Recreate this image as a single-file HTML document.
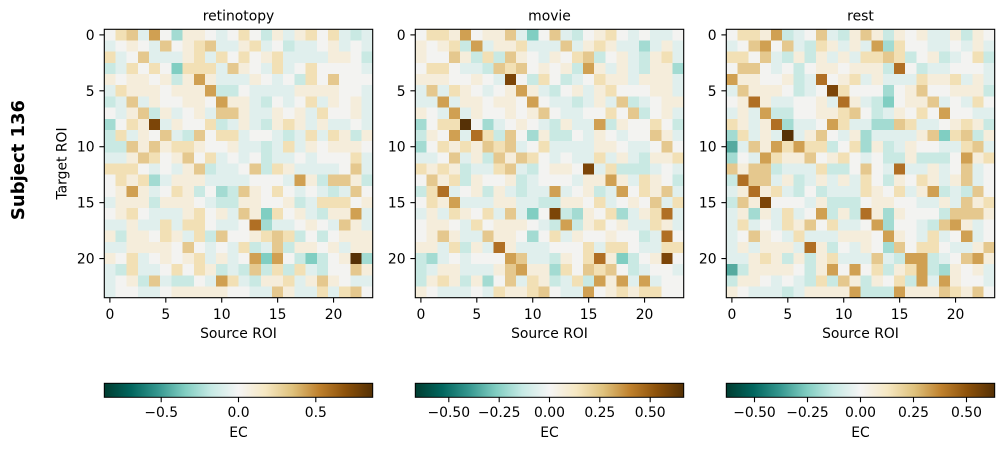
<!DOCTYPE html>
<html>
<head>
<meta charset="utf-8">
<style>
  html, body { margin:0; padding:0; background:#ffffff; }
  body { width:1004px; height:450px; overflow:hidden; }
  svg { display:block; }
  text { font-family: "DejaVu Sans", "Liberation Sans", sans-serif; fill:#000; }
</style>
</head>
<body>
<svg id="fig" width="1004" height="450" viewBox="0 0 1004 450" xmlns="http://www.w3.org/2000/svg">
  <defs>
    <linearGradient id="brbg" x1="0" y1="0" x2="1" y2="0">
      <stop offset="0" stop-color="#003c30"/>
      <stop offset="0.1" stop-color="#01665e"/>
      <stop offset="0.2" stop-color="#35978f"/>
      <stop offset="0.3" stop-color="#80cdc1"/>
      <stop offset="0.4" stop-color="#c7eae5"/>
      <stop offset="0.5" stop-color="#f5f5f5"/>
      <stop offset="0.6" stop-color="#f6e8c3"/>
      <stop offset="0.7" stop-color="#dfc27d"/>
      <stop offset="0.8" stop-color="#bf812d"/>
      <stop offset="0.9" stop-color="#8c510a"/>
      <stop offset="1" stop-color="#543005"/>
    </linearGradient>
  </defs>

  <!-- Row label -->
  <text transform="translate(24,160) rotate(-90)" text-anchor="middle" font-size="18" font-weight="bold">Subject 136</text>
  <text transform="translate(66.5,163.5) rotate(-90)" text-anchor="middle" font-size="13.9">Target ROI</text>

  <!-- Titles -->
  <text x="238.5" y="20.5" text-anchor="middle" font-size="13.9">retinotopy</text>
  <text x="549.5" y="20.5" text-anchor="middle" font-size="13.9">movie</text>
  <text x="860.5" y="20.5" text-anchor="middle" font-size="13.9">rest</text>

  <!-- cells -->
  <g id="cells" shape-rendering="crispEdges"></g>

  <!-- frames -->
  <g fill="none" stroke="#000" stroke-width="1.1">
    <rect x="104.3" y="29.3" width="268.4" height="268.4"/>
    <rect x="415.3" y="29.3" width="268.4" height="268.4"/>
    <rect x="726.3" y="29.3" width="268.4" height="268.4"/>
  </g>

  <g id="ticks" stroke="#000" stroke-width="1.1"></g>
  <g id="ticklabels" font-size="13.9"></g>

  <!-- x labels -->
  <text x="238.5" y="338" text-anchor="middle" font-size="13.9">Source ROI</text>
  <text x="549.5" y="338" text-anchor="middle" font-size="13.9">Source ROI</text>
  <text x="860.5" y="338" text-anchor="middle" font-size="13.9">Source ROI</text>

  <!-- colorbars -->
  <rect x="104.3" y="383.3" width="268.4" height="14" fill="url(#brbg)" stroke="#000" stroke-width="1"/>
  <rect x="415.3" y="383.3" width="268.4" height="14" fill="url(#brbg)" stroke="#000" stroke-width="1"/>
  <rect x="726.3" y="383.3" width="268.4" height="14" fill="url(#brbg)" stroke="#000" stroke-width="1"/>

  <g stroke="#000" stroke-width="1.1">
    <line x1="161.2" y1="397.3" x2="161.2" y2="402.2"/>
    <line x1="238.5" y1="397.3" x2="238.5" y2="402.2"/>
    <line x1="315.8" y1="397.3" x2="315.8" y2="402.2"/>

    <line x1="448.8" y1="397.3" x2="448.8" y2="402.2"/>
    <line x1="499.2" y1="397.3" x2="499.2" y2="402.2"/>
    <line x1="549.5" y1="397.3" x2="549.5" y2="402.2"/>
    <line x1="599.8" y1="397.3" x2="599.8" y2="402.2"/>
    <line x1="650.2" y1="397.3" x2="650.2" y2="402.2"/>

    <line x1="754.5" y1="397.3" x2="754.5" y2="402.2"/>
    <line x1="807.5" y1="397.3" x2="807.5" y2="402.2"/>
    <line x1="860.5" y1="397.3" x2="860.5" y2="402.2"/>
    <line x1="913.5" y1="397.3" x2="913.5" y2="402.2"/>
    <line x1="966.5" y1="397.3" x2="966.5" y2="402.2"/>
  </g>
  <g font-size="13.9" text-anchor="middle">
    <text x="161.2" y="417">−0.5</text>
    <text x="238.5" y="417">0.0</text>
    <text x="315.8" y="417">0.5</text>

    <text x="448.8" y="417">−0.50</text>
    <text x="499.2" y="417">−0.25</text>
    <text x="549.5" y="417">0.00</text>
    <text x="599.8" y="417">0.25</text>
    <text x="650.2" y="417">0.50</text>

    <text x="754.5" y="417">−0.50</text>
    <text x="807.5" y="417">−0.25</text>
    <text x="860.5" y="417">0.00</text>
    <text x="913.5" y="417">0.25</text>
    <text x="966.5" y="417">0.50</text>

    <text x="238.5" y="437">EC</text>
    <text x="549.5" y="437">EC</text>
    <text x="860.5" y="437">EC</text>
  </g>
</svg>

<script>
(function(){
  var NS = "http://www.w3.org/2000/svg";
  var col = {
    w:'#f3f3f1','1':'#e0efed','2':'#c9e9e3','3':'#a3dbd2','4':'#80cec2','5':'#55aa9f',
    a:'#f5eddb', b:'#f2e0b5', c:'#e5c88e', d:'#d0a052', e:'#b06f24', f:'#7c4508', g:'#563106'
  };
  var P1 = [
"wbc1dw3aaw1wbw2a1abwb121",
"1waw1cwabc11ab1w211wa1w1",
"b1wc111ab1bwbwab1111aaw2",
"21bwbw4bbb1caw1b1wbwwww1",
"awaawa2ada111aw1w2bwcwww",
"1baaawaaad22w1111aaaaww1",
"21c1awwaawdaa12w1wb1awa1",
"w1ac2a1wa1cca11awa1bwwa1",
"3wbaf1awwb21a12aba1a11w1",
"2b1awc12cwbb1ww121b1ba2a",
"22cacabbawwa1121b1awaaaw",
"11acbwacwb1w1w211w1wwwb1",
"bbbw1w1ac211wc2ba1111wc1",
"wbab31aaa1111www1da2cca2",
"wada1wba2w32cawbw1w121cw",
"1aaa2aaaw122aawwa21bbbwa",
"wabw111abwa1ca4bwa12aad1",
"11a11b1bbw11we311waw1ca1",
"a2aawba1b2cwwabcb2w2waaa",
"11aaaawcw1w1b21c2aawa1aa",
"awb1wawab1a1wd4dw242wag3",
"12b11wbwba212c2b2b12wwca",
"1wa2c122w1db12aab1acaw11",
"1ww11waaaaaww11ca11b1bcw"];
  var P2 = [
"wbbadwaac14wc12wabw1w11w",
"awab2d1aab111c1aba1131a1",
"awwca2b2caw1awbc2wa12ab1",
"wbbw112cbcwawa2da1a12aa3",
"aaawwaw1fw2bw21wbaa1aaa1",
"1c1baw1wada12wa1abwwwaa1",
"11d1aawaawdw1121a1c21waa",
"aw1d1awwawacw11wwbwc2wa1",
"3wbbgw31waw12a11d2awwbw2",
"2awd1eb2cw3a22w1aw1wwca1",
"3wbabacbc1wb1111aaw11wcw",
"11wc1a2cacbw1w11b1a12aab",
"baba211bc12waawf1b2221w1",
"wcab2awwa21www1aada1baw2",
"2be1wa2a1211d1wa21dwbac1",
"wbad111aa1122aawb1wawc1b",
"1a1bawb1c14wf23awb31abe1",
"waaw1bwaaaw12d2abwa11ba1",
"waca11caaw3wb1awwaww21ew",
"aa1b2a1ea111wwwb1bbw11bb",
"231w1wwwdc112awbea42wafw",
"21aa111acdaa3bwcbcw21ww1",
"2aba2a3wc1ba21b2dad1d1ww",
"aw111w1baabcw11dwababbww"];
  var P3 = [
"wbbad21wc12aca2awa11a2aw",
"1wcdwc12ba1a1d3bww11w1a1",
"bbwc12a2a1a1bbcb2wa21wb2",
"wccw1w2waawaaa2ew211www1",
"daawwa21ewab1a111baab1a1",
"1caaaw21wfbwww3wacwwaaa2",
"waea11wwa1ea124waac1w1bw",
"1a1d22wwaabcw21awbwdww11",
"ba1ae311wdb1133cb11waba2",
"3b1a1g1acw1a31111ac4bc2a",
"51cadbdbb2wb3a21aww11bc1",
"3w1dbaacwabw1w22a222wdab",
"cacc2111b22wcw1e11a1wc1w",
"2ecc1a21a1a1bw2awba1ac1w",
"1aeab12w2111bawb1ad212cw",
"2cafwww1a222waaww11a1cab",
"1a3a1b1wd2a2ea3awww2ccca",
"1b1w1bacwb11wd3ww12cda1w",
"1wcaw1b111aaawdaw1b1wd1w",
"1a1aaa1ea2w1aw3cwbbw11ac",
"11aba2a2ab111c12dd21wcda",
"52aaaaw2adwdwb2abd23awa1",
"2aaw1w12b2ca2awb2d1daww1",
"aw11121aaaad222daaacbacw"];
  var panels = [[104.3,P1],[415.3,P2],[726.3,P3]];
  var top = 29.3, cs = 268.4/24;
  var g = document.getElementById('cells');
  var tk = document.getElementById('ticks');
  var tl = document.getElementById('ticklabels');
  panels.forEach(function(p){
    var x0 = p[0], data = p[1];
    for (var r=0;r<24;r++){
      var row = data[r] || "";
      for (var c=0;c<24;c++){
        var ch = row.charAt(c) || 'w';
        var rc = document.createElementNS(NS,'rect');
        var x = x0 + c*cs, y = top + r*cs;
        rc.setAttribute('x', x.toFixed(2));
        rc.setAttribute('y', y.toFixed(2));
        rc.setAttribute('width', (cs+0.4).toFixed(2));
        rc.setAttribute('height', (cs+0.4).toFixed(2));
        rc.setAttribute('fill', col[ch] || col.w);
        g.appendChild(rc);
      }
    }
    for (var k=0;k<=20;k+=5){
      var yc = top + cs*(k+0.5);
      var xc = x0 + cs*(k+0.5);
      var l1 = document.createElementNS(NS,'line');
      l1.setAttribute('x1', (x0-4.9).toFixed(2)); l1.setAttribute('x2', x0.toFixed(2));
      l1.setAttribute('y1', yc.toFixed(2)); l1.setAttribute('y2', yc.toFixed(2));
      tk.appendChild(l1);
      var l2 = document.createElementNS(NS,'line');
      l2.setAttribute('x1', xc.toFixed(2)); l2.setAttribute('x2', xc.toFixed(2));
      l2.setAttribute('y1', (top+268.4).toFixed(2)); l2.setAttribute('y2', (top+268.4+4.9).toFixed(2));
      tk.appendChild(l2);
      var t1 = document.createElementNS(NS,'text');
      t1.setAttribute('x', (x0-9.7).toFixed(2)); t1.setAttribute('y', (yc+5).toFixed(2));
      t1.setAttribute('text-anchor','end'); t1.textContent = String(k);
      tl.appendChild(t1);
      var t2 = document.createElementNS(NS,'text');
      t2.setAttribute('x', xc.toFixed(2)); t2.setAttribute('y', '319');
      t2.setAttribute('text-anchor','middle'); t2.textContent = String(k);
      tl.appendChild(t2);
    }
  });
})();
</script>
</body>
</html>
